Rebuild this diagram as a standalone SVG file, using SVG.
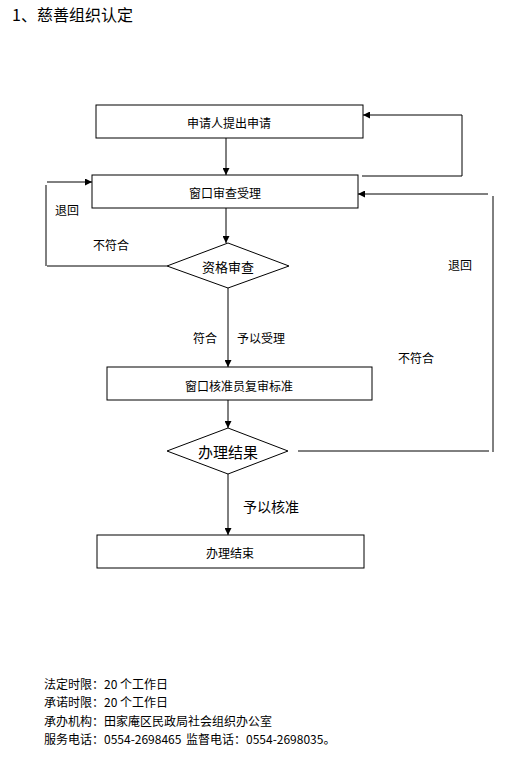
<svg xmlns="http://www.w3.org/2000/svg" width="526" height="765" viewBox="0 0 526 765">
<style>
text{font-family:"Noto Sans CJK SC","Liberation Sans",sans-serif;fill:#000}
.t{font-size:12px}
.c{text-anchor:middle;dominant-baseline:central}
.box{fill:#fff;stroke:#000;stroke-width:1}
.ln{fill:none;stroke:#000;stroke-width:1}
</style>
<defs>
<marker id="ah" viewBox="0 0 10 10" refX="10" refY="5" markerWidth="7" markerHeight="7" markerUnits="userSpaceOnUse" orient="auto">
<path d="M0,0 L10,5 L0,10 z" fill="#000"/>
</marker>
</defs>
<rect width="526" height="765" fill="#fff"/>
<text x="12" y="21" style="font-size:16px">1、慈善组织认定</text>

<g id="connectors">
<line class="ln" x1="226" y1="138" x2="226" y2="175" marker-end="url(#ah)"/>
<polyline class="ln" points="362,176 462,176 462,115 363,115" marker-end="url(#ah)"/>
<line class="ln" x1="488" y1="194" x2="358" y2="194" marker-end="url(#ah)"/>
<polyline class="ln" points="298,451 489,451"/>
<line class="ln" x1="493" y1="196" x2="493" y2="452"/>
<line class="ln" x1="47" y1="182" x2="92" y2="182" marker-end="url(#ah)"/>
<line class="ln" x1="46" y1="185" x2="46" y2="266"/>
<line class="ln" x1="47" y1="266" x2="167" y2="266"/>
<line class="ln" x1="226" y1="208" x2="226" y2="243" marker-end="url(#ah)"/>
<line class="ln" x1="228" y1="288" x2="228" y2="367" marker-end="url(#ah)"/>
<line class="ln" x1="228" y1="400" x2="228" y2="428" marker-end="url(#ah)"/>
<line class="ln" x1="228" y1="474" x2="228" y2="535" marker-end="url(#ah)"/>
<text class="t" x="55" y="215">退回</text>
<text class="t" x="93" y="250">不符合</text>
<text class="t" x="448" y="270">退回</text>
<text class="t" x="398" y="363">不符合</text>
<text class="t" x="193" y="343">符合</text>
<text class="t" x="237" y="343">予以受理</text>
<text x="243" y="512" style="font-size:14px">予以核准</text>
</g>

<g id="n1"><rect class="box" x="96" y="105" width="267" height="33"/><text class="t c" x="229" y="122">申请人提出申请</text></g>
<g id="n2"><rect class="box" x="92" y="175" width="266" height="33"/><text class="t c" x="225" y="192">窗口审查受理</text></g>
<g id="n3"><polygon class="box" points="228,243 289,266 228,288 167,266"/><text class="t c" x="228" y="266" style="font-size:13px">资格审查</text></g>
<g id="n4"><rect class="box" x="107" y="367" width="265" height="33"/><text class="t c" x="239" y="385">窗口核准员复审标准</text></g>
<g id="n5"><polygon class="box" points="228,428 288,451 228,474 167,451"/><text class="c" x="228" y="451" style="font-size:15px">办理结果</text></g>
<g id="n6"><rect class="box" x="97" y="535" width="267" height="33"/><text class="t c" x="230" y="552">办理结束</text></g>

<g id="footer" class="t">
<text x="44" y="689">法定时限：20 个工作日</text>
<text x="44" y="707">承诺时限：20 个工作日</text>
<text x="44" y="726">承办机构：田家庵区民政局社会组织办公室</text>
<text x="44" y="744">服务电话：0554-2698465<tspan x="186">监督电话：0554-2698035。</tspan></text>
</g>
</svg>
